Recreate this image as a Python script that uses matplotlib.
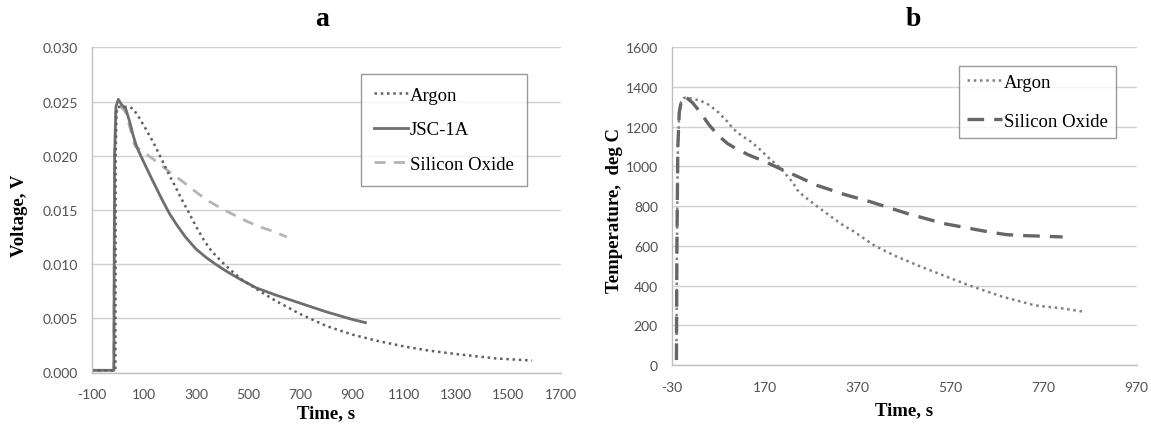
import matplotlib
matplotlib.use("Agg")
import matplotlib.pyplot as plt
from matplotlib.ticker import FormatStrFormatter

plt.rcParams["axes.unicode_minus"] = False

# ---- Panel a data (Voltage vs time) ----
a_argon_t = [-100, -9, -8, -5, 0, 20, 45, 60, 80, 107, 135, 162, 194, 220, 245, 272, 300, 331, 360, 400, 431, 480, 533, 600, 700, 800, 900, 1000, 1100, 1200, 1300, 1450, 1590]
a_argon_v = [0.0002, 0.0002, 0.0200, 0.0240, 0.0245, 0.0245, 0.0245, 0.0243, 0.0236, 0.0225, 0.0213, 0.0200, 0.0184, 0.0172, 0.0160, 0.0148, 0.0135, 0.0122, 0.0112, 0.0102, 0.0095, 0.0085, 0.0077, 0.0067, 0.0054, 0.0043, 0.0035, 0.0029, 0.0024, 0.0020, 0.0017, 0.0013, 0.0011]

a_jsc_t = [-100, -15, -12, -7, 2, 15, 31, 45, 60, 73, 100, 130, 169, 200, 230, 260, 300, 340, 375, 420, 470, 533, 600, 700, 800, 900, 951]
a_jsc_v = [0.0002, 0.0002, 0.0200, 0.0245, 0.0252, 0.0247, 0.0243, 0.0232, 0.0218, 0.0208, 0.0194, 0.0179, 0.0160, 0.0146, 0.0135, 0.0125, 0.0114, 0.0106, 0.0100, 0.0093, 0.0086, 0.0078, 0.0072, 0.0064, 0.0056, 0.0049, 0.0046]

a_sio_t = [-100, -15, -12, -7, 2, 31, 66, 130, 194, 250, 303, 350, 400, 450, 500, 550, 600, 649]
a_sio_v = [0.0002, 0.0002, 0.0200, 0.0240, 0.0248, 0.0240, 0.0209, 0.0198, 0.0186, 0.0176, 0.0166, 0.0158, 0.0151, 0.0145, 0.0139, 0.0134, 0.0130, 0.0125]

# ---- Panel b data (Temperature vs time) ----
b_argon_t = [-20, -19, -17, -14, -10, -5, 0, 31, 50, 70, 90, 102, 120, 141, 160, 180, 200, 211, 230, 243, 260, 282, 320, 341, 360, 407, 450, 501, 550, 611, 680, 752, 810, 858]
b_argon_T = [25, 600, 1100, 1270, 1325, 1343, 1348, 1332, 1310, 1273, 1225, 1190, 1155, 1124, 1085, 1040, 1000, 973, 920, 872, 840, 800, 735, 700, 675, 600, 550, 500, 455, 400, 345, 300, 285, 268]

b_sio_t = [-20, -19, -17, -14, -10, -5, 0, 15, 31, 50, 70, 90, 109, 135, 164, 190, 211, 245, 282, 340, 399, 440, 478, 520, 556, 600, 634, 660, 689, 720, 752, 811]
b_sio_T = [25, 600, 1100, 1270, 1325, 1345, 1350, 1320, 1273, 1210, 1156, 1115, 1089, 1058, 1031, 1003, 980, 945, 905, 860, 821, 790, 762, 735, 712, 693, 678, 667, 657, 652, 650, 645]

a_xticks = [-100, 100, 300, 500, 700, 900, 1100, 1300, 1500, 1700]
a_yticks = [0.000, 0.005, 0.010, 0.015, 0.020, 0.025, 0.030]
b_xticks = [-30, 170, 370, 570, 770, 970]
b_yticks = [0, 200, 400, 600, 800, 1000, 1200, 1400, 1600]

W, H = 1151, 427
fig = plt.figure(figsize=(W / 100, H / 100), dpi=100)
axa = fig.add_axes([91.7 / W, 1 - 373.5 / H, (560.5 - 91.7) / W, (373.5 - 48.3) / H])
axb = fig.add_axes([671.8 / W, 1 - 366 / H, (1136.5 - 671.8) / W, (366 - 48.3) / H])

serif = "Liberation Serif"

def style(ax, xticks, yticks, yfmt=None):
    for s in ["top", "right"]:
        ax.spines[s].set_visible(False)
    for s in ["left", "bottom"]:
        ax.spines[s].set_color("#bfbfbf")
        ax.spines[s].set_linewidth(1.0)
    ax.set_xticks(xticks)
    ax.set_yticks(yticks)
    ax.set_xlim(xticks[0], xticks[-1])
    ax.set_ylim(yticks[0], yticks[-1])
    if yfmt:
        ax.yaxis.set_major_formatter(FormatStrFormatter(yfmt))
    ax.tick_params(axis="y", length=0, pad=10)
    ax.tick_params(axis="x", length=0, pad=11.5)
    for lab in ax.get_xticklabels() + ax.get_yticklabels():
        lab.set_fontfamily("Lato")
        lab.set_fontsize(10)
        lab.set_color("#505050")
    ax.yaxis.grid(True, color="#d0d0d0", linewidth=1.0)
    ax.set_axisbelow(True)

leg_kw = dict(prop=dict(family=serif, size=13.5), frameon=True, fancybox=False,
              edgecolor="#808080", handlelength=1.85, handletextpad=0.1,
              borderaxespad=0)

# Panel a
axa.plot(a_sio_t, a_sio_v, color="#b4b4b4", lw=2.0, ls=(0, (4, 3)), label="Silicon Oxide")
axa.plot(a_jsc_t, a_jsc_v, color="#6e6e6e", lw=2.0, ls="-", label="JSC-1A")
axa.plot(a_argon_t, a_argon_v, color="#606060", lw=1.8, ls=(0, (1, 1.5)), label="Argon")
style(axa, a_xticks, a_yticks, "%.3f")
axa.set_xlabel("Time, s", fontfamily=serif, fontweight="bold", fontsize=13.5)
axa.xaxis.set_label_coords(0.5, -0.097)
axa.set_ylabel("Voltage, V", fontfamily=serif, fontweight="bold", fontsize=13.5)
axa.yaxis.set_label_coords(-0.136, 0.484)
fig.text(322 / W, 1 - 20 / H, "a", fontfamily=serif, fontweight="bold", fontsize=20,
         ha="center", va="center")
h, l = axa.get_legend_handles_labels()
order = [2, 1, 0]
lega = axa.legend([h[i] for i in order], [l[i] for i in order],
                  loc="upper left", bbox_to_anchor=(0.574, 0.918),
                  labelspacing=0.93, borderpad=0.68, **leg_kw)
lega.get_frame().set_linewidth(1.0)

# Panel b
axb.plot(b_argon_t, b_argon_T, color="#808080", lw=1.8, ls=(0, (1, 1.5)), label="Argon")
axb.plot(b_sio_t, b_sio_T, color="#666666", lw=2.4, ls=(0, (5, 3)), label="Silicon Oxide")
style(axb, b_xticks, b_yticks)
axb.set_xlabel("Time, s", fontfamily=serif, fontweight="bold", fontsize=13.5)
axb.xaxis.set_label_coords(0.5, -0.113)
axb.set_ylabel("Temperature,  deg C", fontfamily=serif, fontweight="bold", fontsize=13.5)
axb.yaxis.set_label_coords(-0.106, 0.491)
fig.text(913 / W, 1 - 20 / H, "b", fontfamily=serif, fontweight="bold", fontsize=20,
         ha="center", va="center")
legb = axb.legend(loc="upper left", bbox_to_anchor=(0.619, 0.941),
                  labelspacing=1.15, borderpad=0.42, **leg_kw)
legb.get_frame().set_linewidth(1.0)

fig.savefig("out.png", dpi=100)
